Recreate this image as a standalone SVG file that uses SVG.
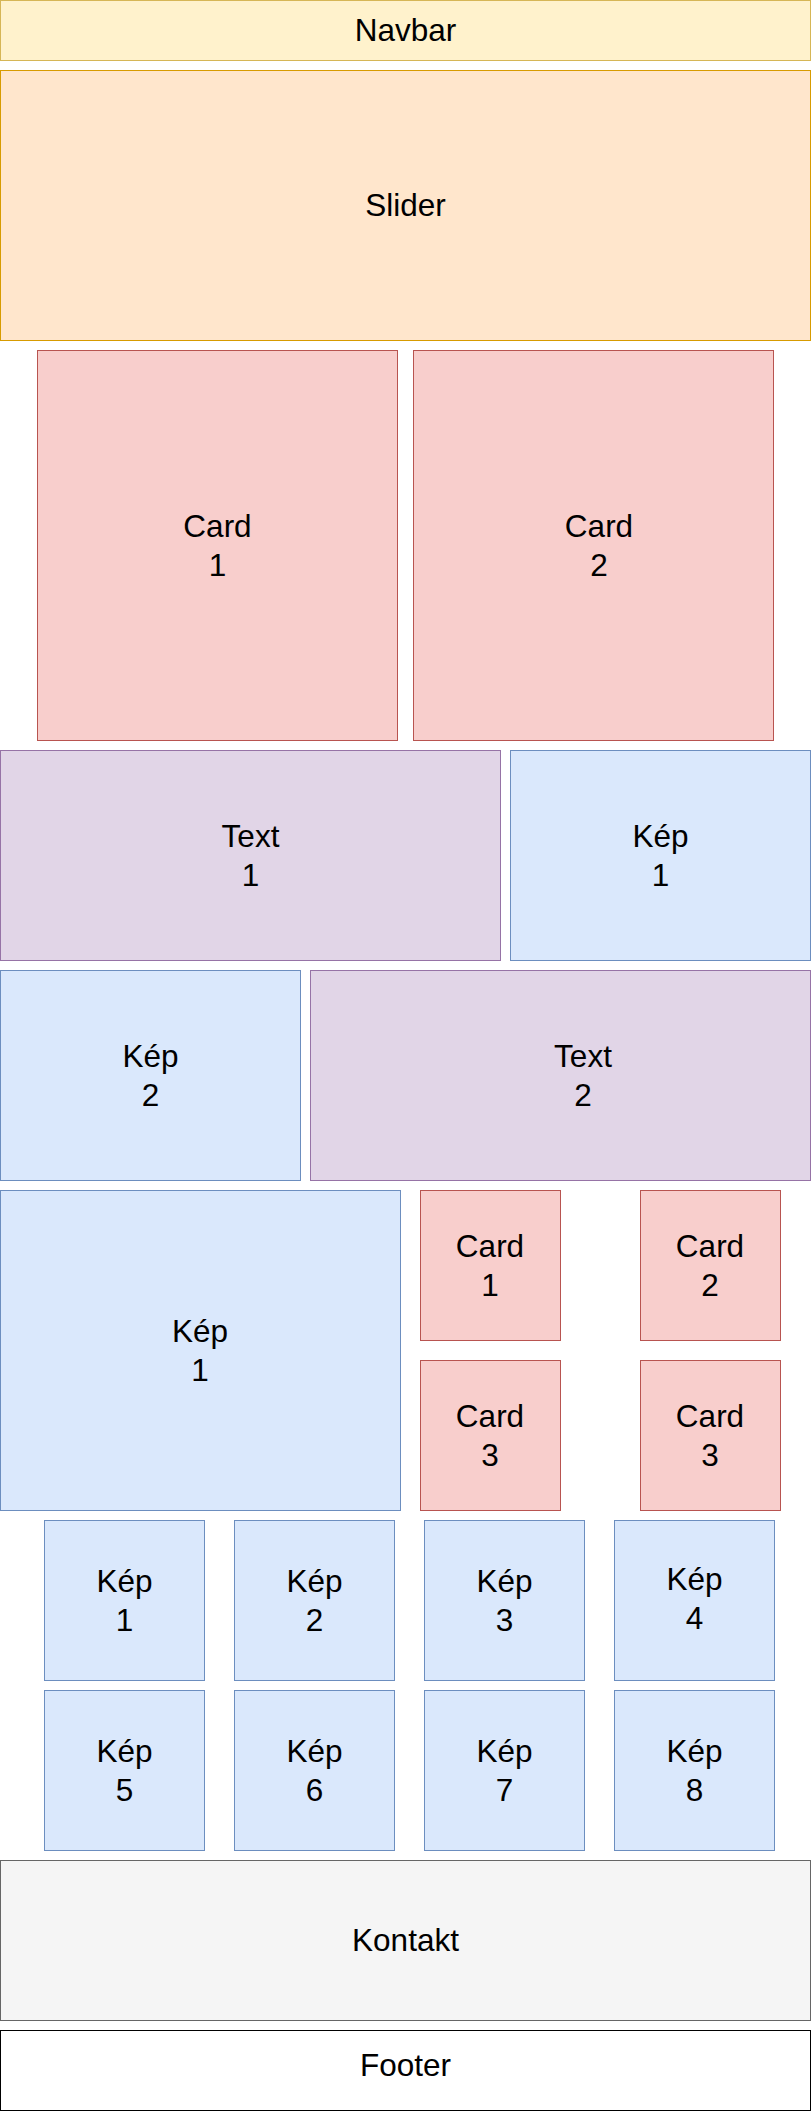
<svg xmlns="http://www.w3.org/2000/svg" width="811" height="2111" viewBox="0 0 811 2111">
<style>
rect{stroke-width:1}
.nav{fill:#fff2cc;stroke:#d6b656}
.sld{fill:#ffe6cc;stroke:#d79b00}
.card{fill:#f8cecc;stroke:#b85450}
.txt{fill:#e1d5e7;stroke:#9673a6}
.kep{fill:#dae8fc;stroke:#6c8ebf}
.kon{fill:#f5f5f5;stroke:#666666}
.foot{fill:#ffffff;stroke:#000000}
text{font-family:"Liberation Sans",Arial,Helvetica,sans-serif;font-size:31.5px;fill:#000000;text-anchor:middle}
</style>
<rect width="811" height="2111" fill="#ffffff"/>
<g id="navbar"><rect class="nav" x="0.5" y="0.5" width="810" height="60"/><text x="405.5" y="41">Navbar</text></g>
<g id="slider"><rect class="sld" x="0.5" y="70.5" width="810" height="270"/><text x="405.5" y="216">Slider</text></g>
<g id="card1"><rect class="card" x="37.5" y="350.5" width="360" height="390"/><text x="217.5" y="536.7">Card</text><text x="217.5" y="576">1</text></g>
<g id="card2"><rect class="card" x="413.5" y="350.5" width="360" height="390"/><text x="599" y="536.7">Card</text><text x="599" y="576">2</text></g>
<g id="text1"><rect class="txt" x="0.5" y="750.5" width="500" height="210"/><text x="250.5" y="846.7">Text</text><text x="250.5" y="886">1</text></g>
<g id="kep1a"><rect class="kep" x="510.5" y="750.5" width="300" height="210"/><text x="660.5" y="846.7">Kép</text><text x="660.5" y="886">1</text></g>
<g id="kep2a"><rect class="kep" x="0.5" y="970.5" width="300" height="210"/><text x="150.5" y="1066.7">Kép</text><text x="150.5" y="1106">2</text></g>
<g id="text2"><rect class="txt" x="310.5" y="970.5" width="500" height="210"/><text x="583" y="1066.7">Text</text><text x="583" y="1106">2</text></g>
<g id="kep1b"><rect class="kep" x="0.5" y="1190.5" width="400" height="320"/><text x="200" y="1341.7">Kép</text><text x="200" y="1381">1</text></g>
<g id="scard1"><rect class="card" x="420.5" y="1190.5" width="140" height="150"/><text x="490" y="1256.7">Card</text><text x="490" y="1296">1</text></g>
<g id="scard2"><rect class="card" x="640.5" y="1190.5" width="140" height="150"/><text x="710" y="1256.7">Card</text><text x="710" y="1296">2</text></g>
<g id="scard3a"><rect class="card" x="420.5" y="1360.5" width="140" height="150"/><text x="490" y="1426.7">Card</text><text x="490" y="1466">3</text></g>
<g id="scard3b"><rect class="card" x="640.5" y="1360.5" width="140" height="150"/><text x="710" y="1426.7">Card</text><text x="710" y="1466">3</text></g>
<g id="g1"><rect class="kep" x="44.5" y="1520.5" width="160" height="160"/><text x="124.5" y="1591.7">Kép</text><text x="124.5" y="1631">1</text></g>
<g id="g2"><rect class="kep" x="234.5" y="1520.5" width="160" height="160"/><text x="314.5" y="1591.7">Kép</text><text x="314.5" y="1631">2</text></g>
<g id="g3"><rect class="kep" x="424.5" y="1520.5" width="160" height="160"/><text x="504.5" y="1591.7">Kép</text><text x="504.5" y="1631">3</text></g>
<g id="g4"><rect class="kep" x="614.5" y="1520.5" width="160" height="160"/><text x="694.5" y="1589.7">Kép</text><text x="694.5" y="1629">4</text></g>
<g id="g5"><rect class="kep" x="44.5" y="1690.5" width="160" height="160"/><text x="124.5" y="1761.7">Kép</text><text x="124.5" y="1801">5</text></g>
<g id="g6"><rect class="kep" x="234.5" y="1690.5" width="160" height="160"/><text x="314.5" y="1761.7">Kép</text><text x="314.5" y="1801">6</text></g>
<g id="g7"><rect class="kep" x="424.5" y="1690.5" width="160" height="160"/><text x="504.5" y="1761.7">Kép</text><text x="504.5" y="1801">7</text></g>
<g id="g8"><rect class="kep" x="614.5" y="1690.5" width="160" height="160"/><text x="694.5" y="1761.7">Kép</text><text x="694.5" y="1801">8</text></g>
<g id="kontakt"><rect class="kon" x="0.5" y="1860.5" width="810" height="160"/><text x="405.5" y="1951">Kontakt</text></g>
<g id="footer"><rect class="foot" x="0.5" y="2030.5" width="810" height="80"/><text x="405.5" y="2076">Footer</text></g>
<g id="connectors"/>
</svg>
